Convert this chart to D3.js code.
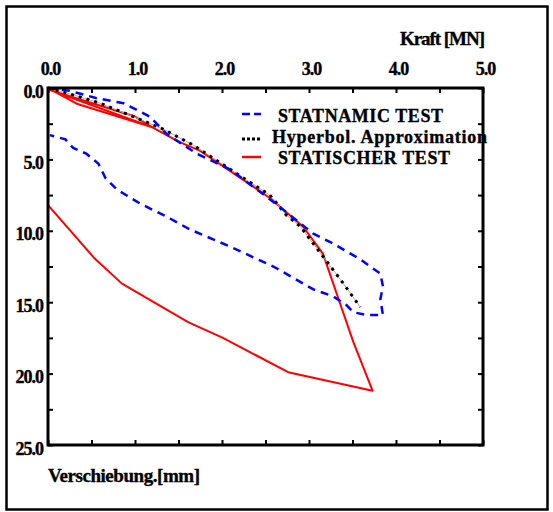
<!DOCTYPE html>
<html><head><meta charset="utf-8">
<script src="https://cdn.jsdelivr.net/npm/d3@7"></script>
<style>
body{margin:0;background:#fff}
</style>
</head><body>
<svg id="c" width="553" height="512"></svg>
<script>
// ---- data ----
const forceTicks = [0, 1, 2, 3, 4, 5];          // Kraft [MN]
const dispTicks = [0, 5, 10, 15, 20, 25];       // Verschiebung [mm]
const forceMinor = [0.5, 1.5, 2.5, 3.5, 4.5];
const dispMinor = [2.5, 7.5, 12.5, 17.5, 22.5];

const statnamicForce = [0, 0.25, 0.55, 0.87, 1.17, 1.36, 1.71, 2.09, 2.4, 2.7, 3.05, 3.28, 3.59, 3.82, 3.85, 3.82, 3.85, 3.66, 3.51, 3.43, 3.28, 3.05, 2.82, 2.59, 2.09, 1.63, 1.36, 1.06, 0.79, 0.66, 0.58, 0.44, 0.29, 0.2, 0.02];
const statnamicDisp  = [0, 0.2, 0.7, 1.07, 2.0, 3.2, 4.6, 5.7, 7.1, 8.5, 10.2, 10.9, 12.0, 13.0, 13.9, 14.8, 15.9, 15.9, 15.7, 15.2, 14.6, 14.1, 13.3, 12.5, 11.1, 9.9, 9.0, 8.1, 7.1, 6.3, 5.3, 4.6, 4.2, 3.6, 3.3];

const hyperForce = [0, 0.3, 0.6, 1.02, 1.33, 1.67, 2.17, 2.55, 2.74, 2.9, 3.05, 3.36, 3.59];
const hyperDisp  = [0, 0.5, 1.07, 2.1, 2.9, 4.0, 6.0, 7.5, 8.9, 9.7, 10.9, 13.4, 15.35];

const staticForce = [0, 0.33, 1.2, 0, 1.0, 1.2, 1.5, 1.75, 2.55, 2.93, 3.16, 3.51, 3.73, 2.76, 2.01, 1.61, 0.85, 0.53, 0.0];
const staticDisp  = [0, 1.1, 2.75, 0.1, 2.0, 2.75, 3.76, 4.4, 7.7, 9.7, 11.6, 17.8, 21.2, 19.9, 17.5, 16.4, 13.7, 11.9, 8.2];

const seriesNames = ["STATNAMIC TEST", "Hyperbol. Approximation", "STATISCHER TEST"];

// ---- chart ----
const svg = d3.select("#c");
const L = 48, R = 483, T = 88, B = 445;
const x = d3.scaleLinear().domain([0, 5]).range([L, R]);
const y = d3.scaleLinear().domain([0, 25]).range([T, B]);
const fmt = d3.format(".1f");
const txt = (sel, size, ls) => sel.style("font-family", '"Liberation Serif"').style("font-weight", "bold")
  .style("font-size", size + "px").style("letter-spacing", ls + "px").style("fill", "#000")
  .style("stroke", "#000").style("stroke-width", "0.35px");

// outer border
svg.append("rect").attr("x", 6.5).attr("y", 6.5).attr("width", 541).attr("height", 503)
  .attr("fill", "none").attr("stroke", "#000").attr("stroke-width", 2.5);

const zip = (a, b) => a.map((v, i) => [v, b[i]]);
const line = d3.line().x(d => x(d[0])).y(d => y(d[1]));

const g = svg.append("g");
// static test (red)
g.append("path").datum(zip(staticForce, staticDisp)).attr("d", line)
  .attr("fill", "none").attr("stroke", "#ff0000").attr("stroke-width", 2).attr("stroke-linejoin", "round");
// hyperbolic approximation (black dotted)
g.append("path").datum(zip(hyperForce, hyperDisp)).attr("d", line)
  .attr("fill", "none").attr("stroke", "#aaa").attr("stroke-width", 1);
g.append("path").datum(zip(hyperForce, hyperDisp)).attr("d", line)
  .attr("fill", "none").attr("stroke", "#000").attr("stroke-width", 3).attr("stroke-dasharray", "3,5");
// statnamic (blue dashed)
g.append("path").datum(zip(statnamicForce, statnamicDisp)).attr("d", line)
  .attr("fill", "none").attr("stroke", "#0000ff").attr("stroke-width", 2.5).attr("stroke-dasharray", "8,6");

// axes
const styleAxis = sel => { sel.select(".domain").remove(); sel.selectAll("line").attr("stroke", "#000").attr("stroke-width", 2); };
const topAxis = svg.append("g").attr("transform", `translate(0,${T})`)
  .call(d3.axisTop(x).tickValues(forceTicks).tickFormat(fmt).tickSizeInner(-5).tickSizeOuter(0).tickPadding(13));
topAxis.call(styleAxis);
topAxis.selectAll("text").attr("dx", 2).call(txt, 18, -1);
svg.append("g").attr("transform", `translate(0,${T})`)
  .call(d3.axisTop(x).tickValues(forceMinor).tickFormat("").tickSizeInner(-5).tickSizeOuter(0)).call(styleAxis);
svg.append("g").attr("transform", `translate(0,${B})`)
  .call(d3.axisBottom(x).tickValues(forceTicks.concat(forceMinor)).tickFormat("").tickSizeInner(-5).tickSizeOuter(0)).call(styleAxis);

const leftAxis = svg.append("g").attr("transform", `translate(${L},0)`)
  .call(d3.axisLeft(y).tickValues(dispTicks).tickFormat(fmt).tickSizeInner(-5).tickSizeOuter(0).tickPadding(5));
leftAxis.call(styleAxis);
leftAxis.selectAll("text").attr("dy", "0.5em").call(txt, 18, -1);
svg.append("g").attr("transform", `translate(${L},0)`)
  .call(d3.axisLeft(y).tickValues(dispMinor).tickFormat("").tickSizeInner(-5).tickSizeOuter(0)).call(styleAxis);
svg.append("g").attr("transform", `translate(${R},0)`)
  .call(d3.axisRight(y).tickValues(dispTicks.concat(dispMinor)).tickFormat("").tickSizeInner(-5).tickSizeOuter(0)).call(styleAxis);

// frame
svg.append("rect").attr("x", L).attr("y", T).attr("width", R - L).attr("height", B - T)
  .attr("fill", "none").attr("stroke", "#000").attr("stroke-width", 3);

// axis titles
svg.append("text").attr("x", 400).attr("y", 45)
  .attr("textLength", 85).attr("lengthAdjust", "spacing")
  .call(txt, 19, 0).text("Kraft [MN]");
svg.append("text").attr("x", 48).attr("y", 482)
  .attr("textLength", 152).attr("lengthAdjust", "spacing")
  .call(txt, 19, 0).text("Verschiebung.[mm]");

// legend
const leg = svg.append("g");
const legY = [114, 139, 157];
const legTextY = [122, 143, 164];
const legTextX = [278, 272, 278];
const legTextW = [165, 215, 172];
const legStyles = [
  {c: "#0000ff", w: 2.5, d: "8,4"},
  {c: "#000", w: 3, d: "3,2"},
  {c: "#ff0000", w: 2.5, d: null}
];
seriesNames.forEach((n, i) => {
  const s = legStyles[i];
  const ln = leg.append("line").attr("x1", 242).attr("x2", 261).attr("y1", legY[i]).attr("y2", legY[i])
    .attr("stroke", s.c).attr("stroke-width", s.w);
  if (s.d) ln.attr("stroke-dasharray", s.d);
  leg.append("text").attr("x", legTextX[i]).attr("y", legTextY[i])
    .attr("textLength", legTextW[i]).attr("lengthAdjust", "spacing")
    .call(txt, 18, 0).text(n);
});
</script>
</body></html>
